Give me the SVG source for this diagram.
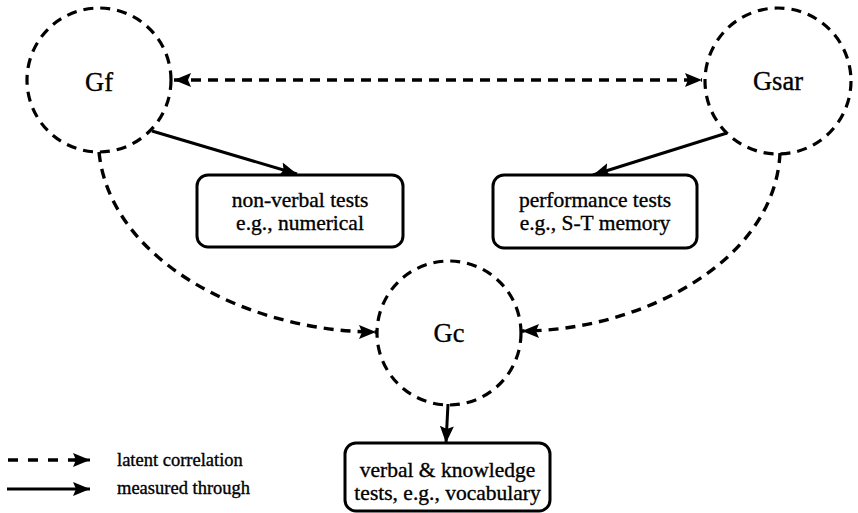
<svg xmlns="http://www.w3.org/2000/svg" width="858" height="513" viewBox="0 0 858 513" font-family="'Liberation Serif', 'DejaVu Serif', serif">
<style>
  .latent { fill: none; stroke: #000; stroke-width: 3.2; stroke-dasharray: 10 7; }
  .box { fill: #fff; stroke: #000; stroke-width: 3; }
  .meas { fill: none; stroke: #000; stroke-width: 3; }
  .dash { fill: none; stroke: #000; stroke-width: 3.4; stroke-dasharray: 10 7; }
  text { font-family: 'Liberation Serif', 'DejaVu Serif', serif; fill: #000; stroke: #000; stroke-width: 0.35; text-anchor: middle; }
  .big { font-size: 26.5px; }
  .lbl { font-size: 21.5px; }
  .leg { font-size: 18.5px; text-anchor: start; }
</style>
<defs>
  <marker id="ah" markerUnits="userSpaceOnUse" markerWidth="18" markerHeight="15" refX="17" refY="7.5" orient="auto-start-reverse" viewBox="0 0 18 15">
    <path d="M0,0.5 L17,7.5 L0,14.5 L3,7.5 z" fill="#000"/>
  </marker>
</defs>

<g id="connectors">
  <path class="dash" d="M174,80 L702,80" marker-start="url(#ah)" marker-end="url(#ah)"/>
  <path class="dash" d="M99,152 C110,262 250,332 376,332" marker-end="url(#ah)"/>
  <path class="dash" d="M780,153 C775,262 640,331 522,331" marker-end="url(#ah)"/>
  <path class="meas" d="M152,131 L297,174" marker-end="url(#ah)"/>
  <path class="meas" d="M727,133 L593,175" marker-end="url(#ah)"/>
  <path class="meas" d="M448,404 L446,443" marker-end="url(#ah)"/>
</g>

<g id="node-gf">
  <circle class="latent" cx="99" cy="80" r="72"/>
  <text class="big" x="99" y="91">Gf</text>
</g>
<g id="node-gsar">
  <circle class="latent" cx="778" cy="81" r="73"/>
  <text class="big" x="778" y="90">Gsar</text>
</g>
<g id="node-gc">
  <circle class="latent" cx="449" cy="333" r="72"/>
  <text class="big" x="449" y="342">Gc</text>
</g>

<g id="node-nonverbal">
  <rect class="box" x="197" y="175" width="206" height="72" rx="11"/>
  <text class="lbl" x="300" y="207">non-verbal tests</text>
  <text class="lbl" x="300" y="230">e.g., numerical</text>
</g>
<g id="node-performance">
  <rect class="box" x="493" y="175" width="204" height="73" rx="11"/>
  <text class="lbl" x="595" y="207">performance tests</text>
  <text class="lbl" x="595" y="230">e.g., S-T memory</text>
</g>
<g id="node-verbal">
  <rect class="box" x="345" y="443" width="205" height="68" rx="11"/>
  <text class="lbl" x="447.5" y="477">verbal &amp; knowledge</text>
  <text class="lbl" x="447.5" y="500">tests, e.g., vocabulary</text>
</g>

<g id="legend">
  <path d="M8,460 L76,460" fill="none" stroke="#000" stroke-width="3.4" stroke-dasharray="10 10"/>
  <path d="M74,460 L90,460" fill="none" stroke="#000" stroke-width="3" marker-end="url(#ah)"/>
  <text class="leg" x="117" y="466">latent correlation</text>
  <path class="meas" d="M7,489 L90,489" marker-end="url(#ah)"/>
  <text class="leg" x="117" y="494">measured through</text>
</g>
</svg>
